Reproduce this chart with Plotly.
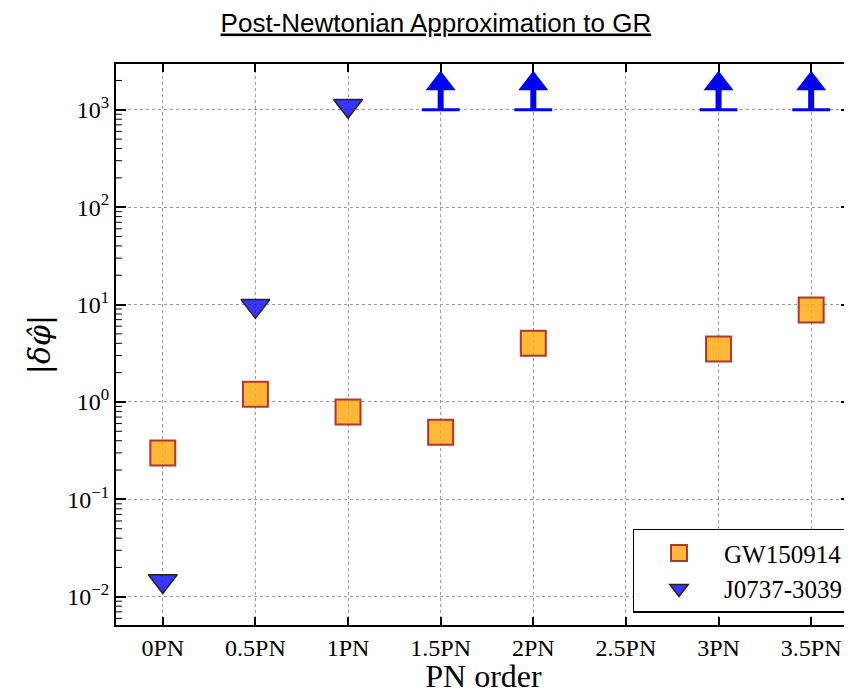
import math

import plotly.graph_objects as go

PN_LABELS = ["0PN", "0.5PN", "1PN", "1.5PN", "2PN", "2.5PN", "3PN", "3.5PN"]

GW150914 = [0.30, 1.2, 0.79, 0.49, 4.0, None, 3.5, 8.8]
J0737_UPPER = [0.0145, 9.7, 1100, None, None, None, None, None]
J0737_LOWER_LIMIT = [None, None, None, 1000, 1000, None, 1000, 1000]

Y_TICKS = [0.01, 0.1, 1, 10, 100, 1000]
Y_TICK_TEXT = ["10<sup>−2</sup>", "10<sup>−1</sup>", "10<sup>0</sup>",
               "10<sup>1</sup>", "10<sup>2</sup>", "10<sup>3</sup>"]
Y_MINOR = [m * 10.0 ** e for e in range(-3, 4) for m in range(2, 10)]

SERIF = "Liberation Serif, Times New Roman, serif"
BLUE = "#0000FF"
Y_RANGE = [-2.29, 3.47]

fig = go.Figure()

# lower-limit arrows (shaft, cap, head)
shaft_x, shaft_y, cap_x, cap_y, head_x, head_y = [], [], [], [], [], []
for label, lim in zip(PN_LABELS, J0737_LOWER_LIMIT):
    if lim is None:
        continue
    shaft_x += [label, label, None]
    shaft_y += [lim, lim * 1.75, None]
    cap_x.append(label)
    cap_y.append(lim)
    head_x.append(label)
    head_y.append(lim * 1.85)

fig.add_trace(go.Scatter(x=shaft_x, y=shaft_y, mode="lines",
                         line=dict(color=BLUE, width=6), showlegend=False,
                         hoverinfo="skip"))
fig.add_trace(go.Scatter(x=cap_x, y=cap_y, mode="markers", showlegend=False,
                         marker=dict(symbol="line-ew", size=27,
                                     line=dict(color=BLUE, width=3))))
fig.add_trace(go.Scatter(x=head_x, y=head_y, mode="markers", showlegend=False,
                         marker=dict(symbol="triangle-up", size=26, color=BLUE,
                                     line=dict(width=0))))

fig.add_trace(go.Scatter(
    x=PN_LABELS, y=GW150914, mode="markers", name="GW150914",
    marker=dict(symbol="square", size=25, color="rgba(255,170,20,0.85)",
                line=dict(color="rgba(165,25,25,0.85)", width=2)),
))
fig.add_trace(go.Scatter(
    x=PN_LABELS, y=J0737_UPPER, mode="markers", name="J0737-3039",
    marker=dict(symbol="triangle-down", size=25, color="rgba(20,20,255,0.85)",
                line=dict(color="#222222", width=1.5)),
))

# minor log ticks on both sides, drawn as short lines in axis-domain units
for v in Y_MINOR:
    frac = (math.log10(v) - Y_RANGE[0]) / (Y_RANGE[1] - Y_RANGE[0])
    if not 0 < frac < 1:
        continue
    for x0, x1 in [(0, 0.008), (0.992, 1)]:
        fig.add_shape(type="line", xref="x domain", yref="y domain",
                      x0=x0, x1=x1, y0=frac, y1=frac,
                      line=dict(color="black", width=1))

# the page adds an 8px body margin, so the figure is 8px smaller each way
fig.update_layout(
    width=844, height=686,
    margin=dict(l=108, r=1, t=56, b=69, autoexpand=False),
    paper_bgcolor="white", plot_bgcolor="white",
    title=dict(text="<u>Post-Newtonian Approximation to GR</u>",
               x=0.507, xanchor="center", y=0.979, yanchor="middle",
               font=dict(family="Liberation Sans, Arial, sans-serif",
                         size=26, color="black")),
    legend=dict(x=0.998, xanchor="right", y=0.022, yanchor="bottom",
                bgcolor="white", bordercolor="black", borderwidth=1.5,
                font=dict(family=SERIF, size=25, color="black"),
                itemsizing="trace", itemwidth=80, tracegroupgap=4),
    showlegend=True,
)

fig.update_xaxes(
    type="category", categoryorder="array", categoryarray=PN_LABELS,
    range=[-0.505, 7.43],
    tickfont=dict(family=SERIF, size=24, color="black"),
    title=dict(text="PN order", font=dict(family=SERIF, size=32, color="black"),
               standoff=0),
    showline=True, linecolor="black", linewidth=2, mirror="ticks",
    ticks="inside", ticklen=8, tickcolor="black", tickwidth=1.5,
    showgrid=True, gridcolor="#9a9a9a", griddash="dot", gridwidth=1,
    zeroline=False,
)
fig.update_yaxes(
    type="log", range=Y_RANGE,
    tickmode="array", tickvals=Y_TICKS, ticktext=Y_TICK_TEXT,
    tickfont=dict(family=SERIF, size=24, color="black"),
    title=dict(text="|<i>δφ̂</i>|",
               font=dict(family="DejaVu Serif, serif", size=30, color="black"),
               standoff=8),
    showline=True, linecolor="black", linewidth=2, mirror="ticks",
    ticks="inside", ticklen=10, tickcolor="black", tickwidth=1.5,
    showgrid=True, gridcolor="#9a9a9a", griddash="dot", gridwidth=1,
    zeroline=False,
)

fig.write_html("out.html")
